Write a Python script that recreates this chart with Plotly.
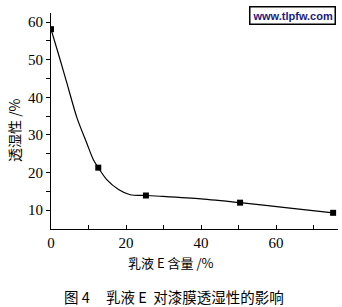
import plotly.graph_objects as go

# measured data points
x_pts = [0, 12.6, 25.3, 50.4, 75.2]
y_pts = [58.1, 21.3, 13.9, 12.0, 9.3]

# fitted curve
x_curve = [0, 2.4, 4.2, 6.9, 9.5, 11.3, 12.6, 14.8, 18.0, 21.1, 25.3, 29, 40, 50.4, 62.5, 75.2]
y_curve = [58.1, 50.1, 43.9, 34.6, 27.9, 23.4, 21.3, 18.2, 15.5, 14.1, 13.9, 13.7, 13.0, 12.0, 10.7, 9.3]

x_ticks = [0, 20, 40, 60]
y_ticks = [10, 20, 30, 40, 50, 60]

serif = "Liberation Serif"
cjk = "Noto Sans CJK SC"

fig = go.Figure()
fig.add_trace(go.Scatter(x=x_curve, y=y_curve, mode="lines",
                         line=dict(color="black", width=1.2, shape="spline", smoothing=0.8),
                         hoverinfo="skip", showlegend=False))
fig.add_trace(go.Scatter(x=x_pts, y=y_pts, mode="markers",
                         marker=dict(symbol="square", size=6, color="black"),
                         showlegend=False))

W, H = 342, 307
L, R, T, B = 51, 4, 13, 78
pw, ph = W - L - R, H - T - B

def px(x):
    return (x - L) / pw

def py(y):
    return (H - B - y) / ph

fig.update_layout(
    width=W, height=H,
    margin=dict(l=L, r=R, t=T, b=B),
    paper_bgcolor="white", plot_bgcolor="white",
    font=dict(family=serif, size=14, color="black"),
    xaxis=dict(range=[0, 76.5], tickvals=x_ticks, ticks="inside", ticklen=4,
               tickcolor="black", showline=True, linecolor="black", linewidth=1,
               showgrid=False, zeroline=False,
               minor=dict(tickvals=[10, 30, 50, 70], ticks="inside", ticklen=4, tickcolor="black"),
               tickfont=dict(family=serif, size=15)),
    yaxis=dict(range=[5, 62.4], tickvals=y_ticks, ticks="outside", ticklen=4,
               tickcolor="black", showline=True, linecolor="black", linewidth=1,
               showgrid=False, zeroline=False,
               minor=dict(tickvals=[15, 25, 35, 45, 55], ticks="outside", ticklen=4, tickcolor="black"),
               tickfont=dict(family=serif, size=15)),
    annotations=[
        dict(text="透湿性 /%", x=px(14), y=py(130), xref="paper", yref="paper",
             xanchor="center", yanchor="middle",
             textangle=-90, showarrow=False, font=dict(family=cjk, size=14)),
        dict(text="乳液 E 含量 /%", x=px(170), y=py(262), xref="paper", yref="paper",
             xanchor="center", yanchor="middle",
             showarrow=False, font=dict(family=cjk, size=13)),
        dict(text="图 4     乳液 E  对漆膜透湿性的影响", x=px(174), y=py(296), xref="paper", yref="paper",
             xanchor="center", yanchor="middle",
             showarrow=False, font=dict(family=cjk, size=14.5)),
        dict(text="<b>www.tlpfw.com</b>", x=px(292.5), y=py(16), xref="paper", yref="paper",
             xanchor="center", yanchor="middle",
             showarrow=False, font=dict(family="Liberation Sans", size=11, color="#1a1a80"),
             bordercolor="black", borderwidth=1.5, borderpad=2, bgcolor="white"),
    ],
)

fig.write_html("out.html")
